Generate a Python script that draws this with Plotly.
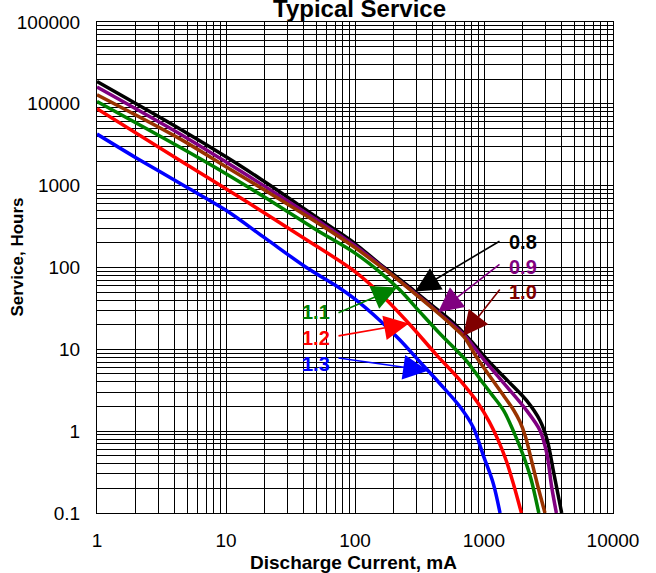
import numpy as np
import plotly.graph_objects as go

# ---------------- data ----------------
x_tick_values = [1, 10, 100, 1000, 10000]
x_tick_labels = ["1", "10", "100", "1000", "10000"]
y_tick_values = [0.1, 1, 10, 100, 1000, 10000, 100000]
y_tick_labels = ["0.1", "1", "10", "100", "1000", "10000", "100000"]

series_names = ["0.8", "0.9", "1.0", "1.1", "1.2", "1.3"]

current_08 = [1, 4.4, 10, 18.4, 26.2, 50, 70, 100, 156, 200, 283, 400, 600, 800, 1050, 1530, 2143, 2716, 3097, 3446, 4000]
hours_08 = [18700, 4920, 2250, 1216, 838, 415, 290, 196, 110, 82, 53, 34, 20, 12.5, 7.6, 4.12, 2.36, 1.35, 0.77, 0.33, 0.1]

current_09 = [1, 4.4, 10, 20, 50, 100, 200, 300, 456, 700, 990, 1500, 2143, 2716, 3070, 3343, 3640]
hours_09 = [16100, 4290, 1950, 980, 385, 185, 78, 47, 27, 15, 7.6, 3.5, 1.78, 1.02, 0.53, 0.21, 0.1]

current_10 = [1, 4.4, 10, 20, 50, 100, 156, 200, 300, 456, 600, 700, 900, 1180, 1400, 1700, 1900, 2100, 2350, 2600, 2970]
hours_10 = [12900, 3730, 1700, 880, 360, 175, 104, 78, 46, 26.5, 18, 14.2, 7.5, 4.1, 2.8, 1.8, 1.3, 0.85, 0.42, 0.22, 0.1]

current_11 = [1, 4.4, 10, 20, 50, 100, 156, 223, 319, 456, 734, 935, 1150, 1422, 1700, 2000, 2300, 2660]
hours_11 = [10700, 2950, 1400, 720, 290, 150, 88, 53, 28.5, 15.5, 7.2, 4.3, 2.8, 1.78, 0.98, 0.52, 0.27, 0.1]

current_12 = [1, 4.4, 14.5, 40, 100, 166, 267, 430, 650, 900, 1100, 1300, 1500, 1700, 1950]
hours_12 = [8700, 2030, 634, 230, 89, 44, 20, 8.5, 4.2, 2.2, 1.3, 0.75, 0.42, 0.22, 0.1]

current_13 = [1, 2, 5, 10, 20, 42, 70, 100, 156, 223, 319, 456, 650, 828, 990, 1180, 1331]
hours_13 = [4270, 2200, 950, 500, 230, 100, 61, 41, 22.5, 13, 7.0, 3.8, 2.0, 1.1, 0.5, 0.23, 0.1]

line_colors = ["#000000", "#800080", "#993300", "#008000", "#FF0000", "#0000FF"]
label_colors = ["#000000", "#800080", "#800000", "#008000", "#FF0000", "#0000FF"]

# currents where each label's arrow touches its curve
arrow_currents = [292, 440, 690, 212, 262, 368]

# ---------------- layout geometry ----------------
W, H = 656, 573
L, R, T, B = 97, 613, 19, 513
FONT = "Liberation Sans, Arial, sans-serif"

curves = [
    (current_08, hours_08), (current_09, hours_09), (current_10, hours_10),
    (current_11, hours_11), (current_12, hours_12), (current_13, hours_13),
]

fig = go.Figure()
for (cx, cy), name, col in zip(curves, series_names, line_colors):
    fig.add_trace(go.Scatter(x=cx, y=cy, mode="lines", name=name,
                             line=dict(color=col, width=3.5, shape="spline", smoothing=0.9),
                             showlegend=False, hoverinfo="skip"))


def px_x(v):
    return L + (R - L) * np.log10(v) / 4.0


def px_y(v):
    return B - (B - T) * (np.log10(v) + 1) / 6.0


def to_paper_x(p):
    return (p - L) / (R - L)


def to_paper_y(p):
    return (B - p) / (B - T)


# label positions (pixel) and arrow tail points (pixel)
label_pos = [(523, 240), (523, 265), (523, 291), (316, 311), (316, 337), (316, 363)]
tail_pos = [(501, 239), (501, 262), (501, 287), (337, 312), (337, 335), (337, 357)]

annotations = []
for i, (cx, cy) in enumerate(curves):
    xc = arrow_currents[i]
    yc = 10 ** np.interp(np.log10(xc), np.log10(cx), np.log10(cy))
    tipx, tipy = px_x(xc), px_y(yc)
    tx, ty = tail_pos[i]
    annotations.append(dict(
        x=np.log10(xc), y=np.log10(yc), xref="x", yref="y",
        ax=tx - tipx, ay=ty - tipy, axref="pixel", ayref="pixel",
        showarrow=True, arrowhead=2, arrowsize=3.1, arrowwidth=1.6,
        arrowcolor=label_colors[i], text="", standoff=0,
    ))
    lx, ly = label_pos[i]
    annotations.append(dict(
        x=to_paper_x(lx), y=to_paper_y(ly), xref="paper", yref="paper",
        text="<b>%s</b>" % series_names[i], showarrow=False,
        font=dict(family=FONT, size=20, color=label_colors[i]),
        xanchor="center", yanchor="middle",
    ))

# title and axis titles
annotations.append(dict(x=to_paper_x(359), y=to_paper_y(5), xref="paper", yref="paper",
                        text="<b>Typical Service</b>", showarrow=False,
                        font=dict(family=FONT, size=24, color="black"),
                        xanchor="center", yanchor="middle"))
annotations.append(dict(x=to_paper_x(353), y=to_paper_y(563), xref="paper", yref="paper",
                        text="<b>Discharge Current, mA</b>", showarrow=False,
                        font=dict(family=FONT, size=19, color="black"),
                        xanchor="center", yanchor="middle"))
annotations.append(dict(x=to_paper_x(18), y=to_paper_y(256), xref="paper", yref="paper",
                        text="<b>Service, Hours</b>", showarrow=False, textangle=-90,
                        font=dict(family=FONT, size=17, color="black"),
                        xanchor="center", yanchor="middle"))

shapes = [
    dict(type="rect", xref="paper", yref="paper", layer="between",
         x0=to_paper_x(500), x1=to_paper_x(547), y0=to_paper_y(309), y1=to_paper_y(226),
         fillcolor="white", line=dict(width=0)),
    dict(type="rect", xref="paper", yref="paper", layer="between",
         x0=to_paper_x(293), x1=to_paper_x(338), y0=to_paper_y(378), y1=to_paper_y(297),
         fillcolor="white", line=dict(width=0)),
]

axis_common = dict(
    type="log", showgrid=True, gridcolor="black", gridwidth=1,
    showline=True, linecolor="black", linewidth=1, mirror=True,
    ticks="", zeroline=False,
    tickfont=dict(family=FONT, size=19, color="black"),
    minor=dict(showgrid=True, gridcolor="black", gridwidth=1, dtick="D1", ticks=""),
)

fig.update_layout(
    width=W, height=H,
    margin=dict(l=L, r=W - R, t=T, b=H - B, pad=0),
    paper_bgcolor="white", plot_bgcolor="white",
    xaxis=dict(axis_common, range=[0, 4], tickvals=x_tick_values, ticktext=x_tick_labels,
               ticklabelstandoff=10),
    yaxis=dict(axis_common, range=[-1, 5], tickvals=y_tick_values, ticktext=y_tick_labels,
               ticklabelstandoff=12),
    annotations=annotations, shapes=shapes,
    font=dict(family=FONT),
)

fig.write_html("out.html", config={"displayModeBar": False},
               post_script="document.body.style.margin='0';")
